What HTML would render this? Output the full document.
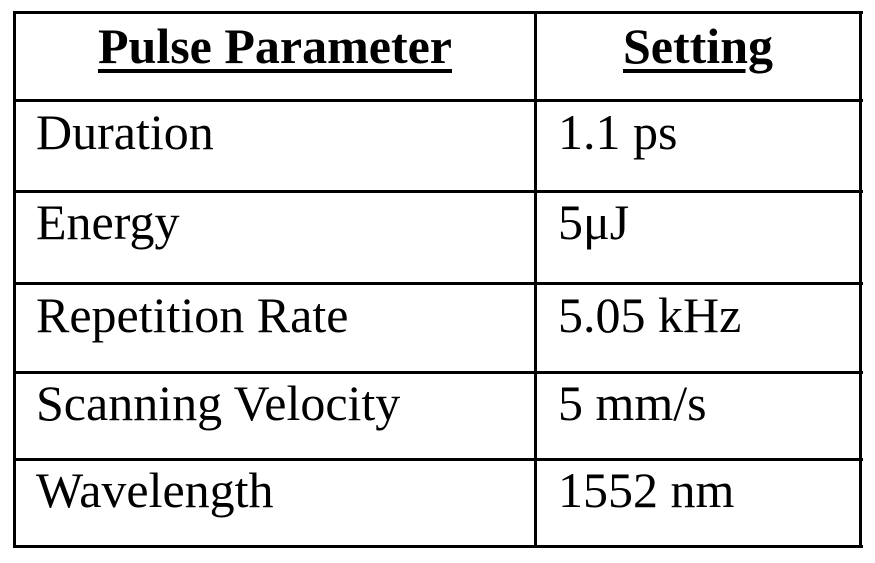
<!DOCTYPE html>
<html><head><style>
body{margin:0;background:#fff;width:875px;height:563px;overflow:hidden;position:relative;font-family:"Liberation Serif",serif;color:#000}
.h{position:absolute;background:#000;height:3px}
.v{position:absolute;background:#000;width:3px}
.t{position:absolute;font-size:50px;line-height:1;white-space:nowrap}
.b{font-weight:bold;text-decoration:underline;text-decoration-thickness:4px;text-underline-offset:6px;text-align:center}
</style></head><body>
<div class="h" style="left:13px;top:11px;width:850px"></div>
<div class="h" style="left:13px;top:99px;width:850px"></div>
<div class="h" style="left:13px;top:190px;width:850px"></div>
<div class="h" style="left:13px;top:282px;width:850px"></div>
<div class="h" style="left:13px;top:371px;width:850px"></div>
<div class="h" style="left:13px;top:458px;width:850px"></div>
<div class="h" style="left:13px;top:545px;width:850px"></div>
<div class="v" style="left:13px;top:11px;height:537px"></div>
<div class="v" style="left:534px;top:11px;height:537px"></div>
<div class="v" style="left:859px;top:11px;height:537px"></div>
<div class="t b" style="left:16px;width:518px;top:21px">Pulse Parameter</div>
<div class="t b" style="left:537px;width:322px;top:21px">Setting</div>
<div class="t" style="left:36px;top:107px">Duration</div>
<div class="t" style="left:558px;top:107px">1.1 ps</div>
<div class="t" style="left:36px;top:197px">Energy</div>
<div class="t" style="left:558px;top:197px">5μJ</div>
<div class="t" style="left:36px;top:290px">Repetition Rate</div>
<div class="t" style="left:558px;top:290px">5.05 kHz</div>
<div class="t" style="left:36px;top:378px">Scanning Velocity</div>
<div class="t" style="left:558px;top:378px">5 mm/s</div>
<div class="t" style="left:36px;top:465px">Wavelength</div>
<div class="t" style="left:558px;top:465px">1552 nm</div>
</body></html>
